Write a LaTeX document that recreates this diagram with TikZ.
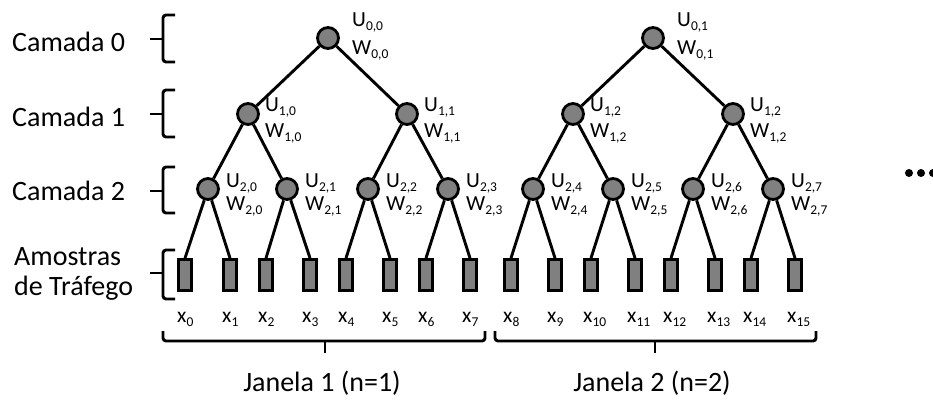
\documentclass[tikz,border=0pt]{standalone}
\usepackage{fontspec}
\setmainfont{Carlito}
\usetikzlibrary{calc}
\definecolor{ndgray}{RGB}{128,128,128}
\newcommand\sbs[1]{\raisebox{-4pt}{\fontsize{13.5}{13.5}\selectfont #1}}
\begin{document}
\begin{tikzpicture}[x=1pt,y=-1pt,
  nd/.style={circle, draw, line width=2.8pt, fill=ndgray, minimum size=21pt, inner sep=0pt},
  smp/.style={rectangle, draw, line width=2.8pt, fill=ndgray, minimum width=13pt, minimum height=31pt, inner sep=0pt},
  lab/.style={font=\fontsize{21.5}{21.5}\selectfont, inner sep=0pt, anchor=base west},
  big/.style={font=\fontsize{28}{30}\selectfont, inner sep=0pt},
  conn/.style={line width=2.9pt},
  brc/.style={line width=2.9pt, rounded corners=3pt},
  dot/.style={circle, fill=black, inner sep=0pt, minimum size=8pt}]
\useasboundingbox (0,0) rectangle (933,399);
% level 0
\node[nd] (r0) at (328,38) {};
\node[nd] (r1) at (653,38) {};
\foreach \n/\s in {r0/{0,0}, r1/{0,1}}{
  \node[lab] (U\n) at ($(\n)+(24,-12)$) {U\sbs{\s}};
  \node[lab] (W\n) at ($(\n)+(24,16)$) {W\sbs{\s}};
}
% level 1
\foreach \x/\s [count=\k from 0] in {248/{1,0}, 407/{1,1}, 573/{1,2}, 733/{1,2}}{
  \node[nd] (a\k) at (\x,114) {};
  \node[lab] (Ua\k) at (\x+17,111) {U\sbs{\s}};
  \node[lab] (Wa\k) at (\x+17,137) {W\sbs{\s}};
}
% level 2
\foreach \x [count=\k from 0] in {208,287,368,448,533,613,693,773}{
  \node[nd] (b\k) at (\x,189) {};
  \node[lab] (Ub\k) at (\x+18,187) {U\sbs{2,\k}};
  \node[lab] (Wb\k) at (\x+18,210) {W\sbs{2,\k}};
}
% samples
\foreach \x [count=\k from 0] in {185,230,266,310,346,390,426,470,511,555,591,635,671,715,751,795}{
  \node[smp] (s\k) at (\x,275) {};
  \node[lab] (xl\k) at (\x-8,322) {x\sbs{\k}};
}
% connectors
\draw[conn] (r0) -- (a0); \draw[conn] (r0) -- (a1);
\draw[conn] (r1) -- (a2); \draw[conn] (r1) -- (a3);
\foreach \p/\c in {0/0,0/1,1/2,1/3,2/4,2/5,3/6,3/7}{
  \draw[conn] (a\p) -- (b\c);
}
\foreach \p [evaluate=\p as \l using int(2*\p), evaluate=\p as \r using int(2*\p+1)] in {0,...,7}{
  \draw[conn] (b\p) -- (s\l.north);
  \draw[conn] (b\p) -- (s\r.north);
}
% row labels
\node[big, anchor=west] (c0) at (12,42) {Camada 0};
\node[big, anchor=west] (c1) at (12,117) {Camada 1};
\node[big, anchor=west] (c2) at (12,191) {Camada 2};
\node[big, anchor=west, align=left] (am) at (14,274) {Amostras\\de Tráfego};
% left braces
\foreach \t/\m/\b in {15/39/62, 90/114/137, 167/191/213, 250/273/299}{
  \draw[brc] (175,\t) -- (163,\t) -- (163,\b) -- (175,\b);
  \draw[conn] (163,\m) -- (150,\m);
}
% bottom braces
\draw[brc] (163,331) -- (163,341) -- (485,341) -- (485,331);
\draw[conn] (325,341) -- (325,353);
\draw[brc] (495,331) -- (495,341) -- (816,341) -- (816,331);
\draw[conn] (655,341) -- (655,353);
\node[big] (j1) at (322,383) {Janela 1 (n=1)};
\node[big] (j2) at (652,383) {Janela 2 (n=2)};
% dots
\node[dot] (d1) at (909,173) {};
\node[dot] (d2) at (921,173) {};
\node[dot] (d3) at (933,173) {};
\end{tikzpicture}
\end{document}
